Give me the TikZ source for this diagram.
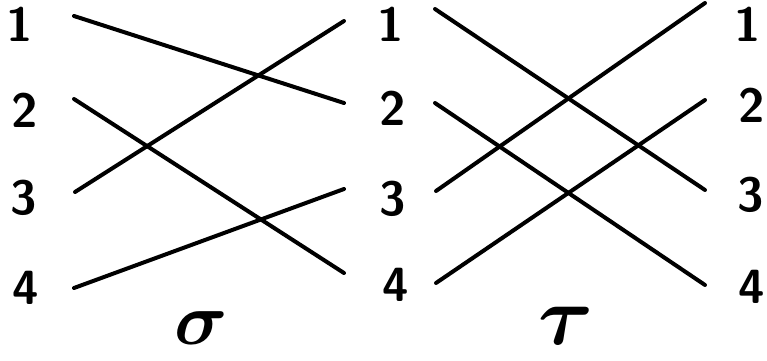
\documentclass[tikz,border=0pt]{standalone}
\usepackage{bm}
\tikzset{
  lbl/.style={font=\sffamily\bfseries\fontsize{48}{48}\selectfont, inner sep=0pt},
  glbl/.style={inner sep=0pt},
  strand/.style={line width=4pt, line cap=round}
}
\begin{document}
\begin{tikzpicture}[x=1pt,y=-1pt]
\useasboundingbox (0,0) rectangle (767,360);
% labels
\node[lbl] (a1) at (20,24) {1};
\node[lbl] (a2) at (25,110) {2};
\node[lbl] (a3) at (24,198) {3};
\node[lbl] (a4) at (26,288) {4};
\node[lbl] (b1) at (391,24) {1};
\node[lbl] (b2) at (393,108) {2};
\node[lbl] (b3) at (393,199) {3};
\node[lbl] (b4) at (396,285) {4};
\node[lbl] (c1) at (748,24) {1};
\node[lbl] (c2) at (752,105) {2};
\node[lbl] (c3) at (751,195) {3};
\node[lbl] (c4) at (752,287) {4};
\node[glbl] (sg) at (201,328) {\scalebox{7.4}{$\bm{\sigma}$}};
\node[glbl] (ta) at (566,326) {\scalebox{8.4}{$\bm{\tau}$}};
% strand end points
\coordinate (p1) at (74,16);
\coordinate (p2) at (74,99);
\coordinate (p3) at (75,192);
\coordinate (p4) at (74,288);
\coordinate (q1) at (344,21);
\coordinate (q2) at (344,103);
\coordinate (q3) at (344,189);
\coordinate (q4) at (344,273);
\coordinate (r1) at (435,9);
\coordinate (r2) at (435,103);
\coordinate (r3) at (436,191);
\coordinate (r4) at (436,283);
\coordinate (s1) at (705,3);
\coordinate (s2) at (705,100);
\coordinate (s3) at (705,190);
\coordinate (s4) at (705,285);
% sigma
\draw[strand] (p1) -- (q2);
\draw[strand] (p2) -- (q4);
\draw[strand] (p3) -- (q1);
\draw[strand] (p4) -- (q3);
% tau
\draw[strand] (r1) -- (s3);
\draw[strand] (r2) -- (s4);
\draw[strand] (r3) -- (s1);
\draw[strand] (r4) -- (s2);
\end{tikzpicture}
\end{document}
